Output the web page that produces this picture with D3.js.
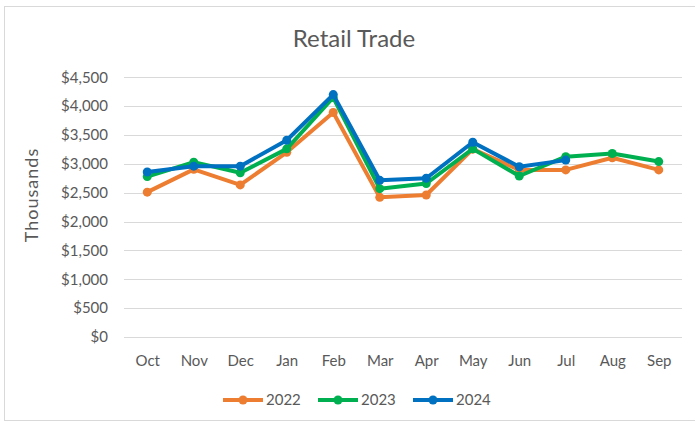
<!DOCTYPE html>
<html>
<head>
<meta charset="utf-8">
<script src="https://cdn.jsdelivr.net/npm/d3@7"></script>
<style>
  body { margin: 0; background: #fff; }
  text { font-family: Lato, "Open Sans", sans-serif; fill: #595959; }
</style>
</head>
<body>
<svg width="695" height="425"></svg>
<script>
const months = ["Oct", "Nov", "Dec", "Jan", "Feb", "Mar", "Apr", "May", "Jun", "Jul", "Aug", "Sep"];
const yTicks = [0, 500, 1000, 1500, 2000, 2500, 3000, 3500, 4000, 4500];

const sales2022 = [2510, 2905, 2635, 3200, 3890, 2420, 2460, 3255, 2895, 2895, 3105, 2895];
const sales2023 = [2780, 3030, 2845, 3260, 4150, 2570, 2660, 3260, 2790, 3125, 3180, 3040];
const sales2024 = [2860, 2960, 2960, 3410, 4200, 2715, 2750, 3375, 2950, 3065];

const series = [
    { name: "2022", color: "#ED7D31", values: sales2022 },
    { name: "2023", color: "#00B050", values: sales2023 },
    { name: "2024", color: "#0070C0", values: sales2024 }
];

const svg = d3.select("svg");

// chart frame
svg.append("rect")
    .attr("x", 4.5).attr("y", 6.5)
    .attr("width", 700).attr("height", 414)
    .attr("fill", "none")
    .attr("stroke", "#d9d9d9");

const x = d3.scalePoint()
    .domain(months)
    .range([124, 682])
    .padding(0.5);

const y = d3.scaleLinear()
    .domain([0, 4500])
    .range([337, 77.3]);

// gridlines
svg.append("g")
    .selectAll("line")
    .data(yTicks)
    .enter().append("line")
    .attr("x1", 124).attr("x2", 682)
    .attr("y1", d => Math.round(y(d)) + 0.5)
    .attr("y2", d => Math.round(y(d)) + 0.5)
    .attr("stroke", "#d9d9d9")
    .attr("stroke-width", 1);

// y axis labels
const yAxis = svg.append("g")
    .attr("transform", "translate(108,0)")
    .call(d3.axisLeft(y)
        .tickValues(yTicks)
        .tickSize(0)
        .tickPadding(0)
        .tickFormat(d => "$" + d3.format(",")(d)));
yAxis.select(".domain").remove();
yAxis.selectAll("text")
    .attr("font-size", "15px")
    .attr("font-family", null)
    .attr("fill", "#595959");

// x axis labels
const xAxis = svg.append("g")
    .attr("transform", "translate(0,351)")
    .call(d3.axisBottom(x).tickSize(0).tickPadding(4));
xAxis.select(".domain").remove();
xAxis.selectAll("text")
    .attr("font-size", "15px")
    .attr("font-family", null)
    .attr("fill", "#595959");

// axis title
svg.append("text")
    .attr("transform", "translate(38,195) rotate(-90)")
    .attr("text-anchor", "middle")
    .attr("font-size", "18px")
    .attr("letter-spacing", "1px")
    .text("Thousands");

// title
svg.append("text")
    .attr("x", 354)
    .attr("y", 47)
    .attr("text-anchor", "middle")
    .attr("font-size", "24px")
    .text("Retail Trade");

const line = d3.line()
    .x((d, i) => x(months[i]))
    .y(d => y(d));

series.forEach(s => {
    svg.append("path")
        .datum(s.values)
        .attr("fill", "none")
        .attr("stroke", s.color)
        .attr("stroke-width", 4)
        .attr("stroke-linejoin", "round")
        .attr("d", line);
    svg.append("g")
        .selectAll("circle")
        .data(s.values)
        .enter().append("circle")
        .attr("cx", (d, i) => x(months[i]))
        .attr("cy", d => y(d))
        .attr("r", 4.5)
        .attr("fill", s.color);
});

// legend
const legendX = [223, 318, 413];
const legend = svg.append("g")
    .selectAll("g")
    .data(series)
    .enter().append("g")
    .attr("transform", (d, i) => "translate(" + legendX[i] + ",400)");

legend.append("line")
    .attr("x1", 0).attr("x2", 40)
    .attr("stroke", d => d.color)
    .attr("stroke-width", 4);
legend.append("circle")
    .attr("cx", 20).attr("r", 4.5)
    .attr("fill", d => d.color);
legend.append("text")
    .attr("x", 43)
    .attr("dy", "0.35em")
    .attr("font-size", "15px")
    .text(d => d.name);
</script>
</body>
</html>
